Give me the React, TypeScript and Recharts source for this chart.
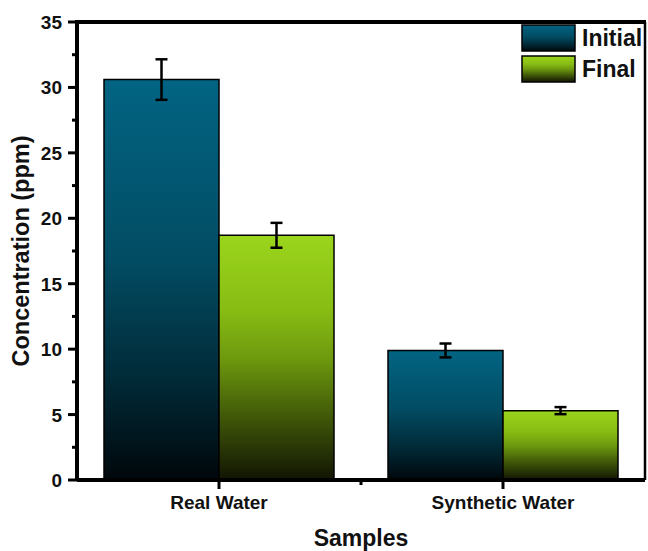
import React from 'react';
import * as RC from 'recharts';
import { BarChart, Bar, XAxis, YAxis, ErrorBar, Legend } from 'recharts';

const categories = ['Real Water', 'Synthetic Water'];
const seriesNames = ['Initial', 'Final'];
const initialValues = [30.6, 9.9];
const initialErrors = [1.55, 0.53];
const finalValues = [18.7, 5.3];
const finalErrors = [0.95, 0.27];
const yTicks = [0, 2.5, 5, 7.5, 10, 12.5, 15, 17.5, 20, 22.5, 25, 27.5, 30, 32.5, 35];
const yMax = 35;

const data = categories.map((name, i) => ({
  name,
  initial: initialValues[i],
  initialErr: initialErrors[i],
  final: finalValues[i],
  finalErr: finalErrors[i],
}));

const CHART_W = 648;
const CHART_H = 551;
const MARGIN = { top: 22, right: 3, left: 17, bottom: 41 };
const FONT = '"Liberation Sans", Arial, Helvetica, sans-serif';

const initStops = [
  ['0%', '#026483'],
  ['45%', '#024c63'],
  ['75%', '#012a37'],
  ['100%', '#00070b'],
];
const finalStops = [
  ['0%', '#9bd51c'],
  ['30%', '#88bd14'],
  ['50%', '#6e9a0e'],
  ['75%', '#3f5608'],
  ['100%', '#111503'],
];

const Grad = ({ id, stops }: { id: string; stops: string[][] }) => (
  <linearGradient id={id} x1="0" y1="0" x2="0" y2="1">
    {stops.map(([o, c]) => (
      <stop key={o} offset={o} stopColor={c} />
    ))}
  </linearGradient>
);

const usePA = () => {
  const anyRC = RC as any;
  return anyRC.usePlotArea ? anyRC.usePlotArea() : null;
};

const YTick = (props: any) => {
  const pa = usePA();
  const { x, y, payload } = props;
  const v = payload.value;
  const major = v % 5 === 0;
  const axisX = x + 15;
  let frame = null;
  if (v === yMax) {
    const left = pa ? pa.x : axisX;
    const top = pa ? pa.y : y;
    const right = pa ? pa.x + pa.width : CHART_W - MARGIN.right;
    const bottom = pa ? pa.y + pa.height : CHART_H - MARGIN.bottom - 30;
    frame = (
      <g>
        <line x1={left - 2} x2={right + 1} y1={top} y2={top} stroke="#000" strokeWidth={4} />
        <line x1={right} x2={right} y1={top} y2={bottom} stroke="#000" strokeWidth={2.5} />
      </g>
    );
  }
  return (
    <g>
      {frame}
      <line x1={axisX - (major ? 9 : 5)} x2={axisX} y1={y} y2={y} stroke="#000" strokeWidth={3} />
      {major && (
        <text x={x} y={y + 7} textAnchor="end" fontFamily={FONT} fontWeight="bold" fontSize={19} fill="#111">
          {v}
        </text>
      )}
    </g>
  );
};

const XTick = (props: any) => {
  const pa = usePA();
  const { x, y, payload, index } = props;
  const axisY = y - 15;
  const n = categories.length;
  const bounds: number[] = [];
  if (pa && index === 0) {
    for (let k = 1; k < n; k++) bounds.push(pa.x + (pa.width * k) / n);
  }
  return (
    <g>
      {bounds.map((bx, i) => (
        <line key={i} x1={bx} x2={bx} y1={axisY} y2={axisY + 5} stroke="#000" strokeWidth={3} />
      ))}
      <line x1={x} x2={x} y1={axisY} y2={axisY + 9} stroke="#000" strokeWidth={3} />
      <text x={x} y={y + 14} textAnchor="middle" fontFamily={FONT} fontWeight="bold" fontSize={19} fill="#111">
        {payload.value}
      </text>
    </g>
  );
};

const LegendContent = () => (
  <svg width={130} height={62} style={{ display: 'block' }}>
    <defs>
      <Grad id="lgInit" stops={initStops} />
      <Grad id="lgFinal" stops={finalStops} />
    </defs>
    {seriesNames.map((n, i) => (
      <g key={n}>
        <rect x={1} y={1 + i * 31} width={53} height={26} fill={i === 0 ? 'url(#lgInit)' : 'url(#lgFinal)'} stroke="#000" strokeWidth={1.5} />
        <text x={61} y={22 + i * 31} fontFamily={FONT} fontWeight="bold" fontSize={23} fill="#111">
          {n}
        </text>
      </g>
    ))}
  </svg>
);

export default function App() {
  return (
    <div style={{ position: 'absolute', left: 0, top: 0, width: CHART_W, height: CHART_H, background: '#fff' }}>
      <BarChart width={CHART_W} height={CHART_H} data={data} margin={MARGIN} barCategoryGap={27} barGap={0}>
        <defs>
          <Grad id="gInit" stops={initStops} />
          <Grad id="gFinal" stops={finalStops} />
        </defs>
        <XAxis
          dataKey="name"
          height={30}
          tickSize={7}
          tickMargin={8}
          tickLine={false}
          axisLine={{ stroke: '#000', strokeWidth: 4 }}
          tick={<XTick />}
          interval={0}
          label={{
            value: 'Samples',
            position: 'bottom',
            offset: 20,
            style: { fontFamily: FONT, fontWeight: 'bold', fontSize: 23, fill: '#111' },
          }}
        />
        <YAxis
          width={60}
          domain={[0, yMax]}
          ticks={yTicks}
          interval={0}
          tickSize={8}
          tickMargin={7}
          tickLine={false}
          axisLine={{ stroke: '#000', strokeWidth: 4 }}
          tick={<YTick />}
          label={{
            value: 'Concentration (ppm)',
            angle: -90,
            position: 'insideLeft',
            offset: 4,
            style: { textAnchor: 'middle', fontFamily: FONT, fontWeight: 'bold', fontSize: 23.5, fill: '#111' },
          }}
        />
        <Bar dataKey="initial" name="Initial" fill="url(#gInit)" stroke="#000" strokeWidth={1.5} isAnimationActive={false}>
          <ErrorBar dataKey="initialErr" width={6} stroke="#000" strokeWidth={2.5} isAnimationActive={false} />
        </Bar>
        <Bar dataKey="final" name="Final" fill="url(#gFinal)" stroke="#000" strokeWidth={1.5} isAnimationActive={false}>
          <ErrorBar dataKey="finalErr" width={6} stroke="#000" strokeWidth={2.5} isAnimationActive={false} />
        </Bar>
        <Legend
          layout="horizontal"
          verticalAlign="middle"
          align="center"
          content={<LegendContent />}
          wrapperStyle={{ top: 24, left: 521, width: 130, height: 62 }}
        />
      </BarChart>
    </div>
  );
}
